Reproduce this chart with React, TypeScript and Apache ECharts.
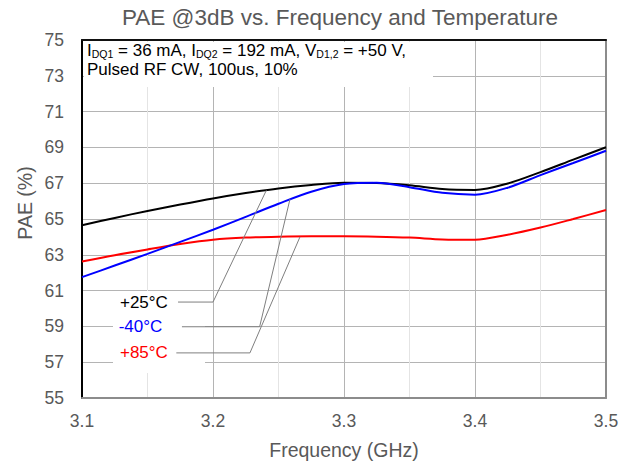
import React, { useEffect, useRef } from "react";
import * as echarts from "echarts";

const FONT = "Liberation Sans, Arial, Helvetica, sans-serif";

const freq = [3.1, 3.125, 3.15, 3.175, 3.2, 3.225, 3.25, 3.275, 3.3, 3.325, 3.35, 3.375, 3.4, 3.425, 3.45, 3.475, 3.5];
const pae25 = [64.65, 65.06, 65.45, 65.81, 66.15, 66.45, 66.71, 66.9, 67.02, 67.01, 66.88, 66.67, 66.62, 66.98, 67.62, 68.32, 69.01];
const paeM40 = [61.75, 62.4, 63.05, 63.72, 64.4, 65.12, 65.85, 66.52, 66.95, 67.03, 66.78, 66.46, 66.36, 66.75, 67.45, 68.13, 68.81];
const pae85 = [62.62, 62.98, 63.3, 63.6, 63.84, 63.96, 64.01, 64.03, 64.03, 64.01, 63.96, 63.86, 63.84, 64.12, 64.52, 65.0, 65.5];

const seriesNames = ["+25°C", "-40°C", "+85°C"];
const seriesColors = ["#000000", "#0000ff", "#ff0000"];

const xTickMin = 3.1;
const xTickMax = 3.5;
const xTickStep = 0.1;
const yTickMin = 55;
const yTickMax = 75;
const yTickStep = 2;

const noteLine1 = "I{s|DQ1} = 36 mA, I{s|DQ2} = 192 mA, V{s|D1,2} = +50 V,";
const noteLine2 = "Pulsed RF CW, 100us, 10%";

// annotation geometry in data coordinates: label anchor, leader start x, elbow, tip
const labelLayout = [
  { text: [3.129, 60.36], startX: 3.1733, elbow: [3.2, 60.36], tip: [3.2407, 66.6] },
  { text: [3.128, 58.98], startX: 3.1763, elbow: [3.2356, 58.98], tip: [3.2588, 66.12] },
  { text: [3.129, 57.52], startX: 3.172, elbow: [3.2282, 57.52], tip: [3.2664, 64.0] },
];

export default function App() {
  const ref = useRef<HTMLDivElement>(null);

  useEffect(() => {
    if (!ref.current) return;
    const chart = echarts.init(ref.current, null, { renderer: "svg" });
    const mk = (vals: number[]) => freq.map((f, i) => [f, vals[i]]);
    const order = [2, 0, 1];
    const allVals = [pae25, paeM40, pae85];

    chart.setOption({
      animation: false,
      backgroundColor: "#ffffff",
      textStyle: { fontFamily: FONT },
      title: {
        text: "PAE @3dB vs. Frequency and Temperature",
        left: 340,
        textAlign: "center",
        top: 6,
        padding: 0,
        textStyle: { fontSize: 22.5, fontWeight: "normal", color: "#595959", fontFamily: FONT },
      },
      grid: { left: 82, right: 23, top: 40, bottom: 62, containLabel: false },
      xAxis: [
        {
          type: "value",
          min: xTickMin,
          max: xTickMax,
          interval: xTickStep,
          name: "Frequency (GHz)",
          nameLocation: "middle",
          nameGap: 42,
          nameTextStyle: { fontSize: 19.5, color: "#595959", fontFamily: FONT },
          axisLine: { show: true, lineStyle: { color: "#8c8c8c", width: 2 } },
          axisTick: { show: false },
          minorTick: { show: false, splitNumber: 2 },
          minorSplitLine: { show: true, lineStyle: { color: "#e4e4e4", width: 1 } },
          splitLine: { show: true, lineStyle: { color: "#b4b4b4", width: 1 } },
          axisLabel: {
            fontSize: 17.5,
            color: "#595959",
            margin: 14,
            fontFamily: FONT,
            formatter: (v: number) => v.toFixed(1),
          },
        },
        {
          type: "value",
          position: "top",
          min: xTickMin,
          max: xTickMax,
          interval: xTickStep,
          axisLine: { show: true, lineStyle: { color: "#111111", width: 2 } },
          axisTick: { show: false },
          axisLabel: { show: false },
          splitLine: { show: false },
        },
      ],
      yAxis: [
        {
          type: "value",
          min: yTickMin,
          max: yTickMax,
          interval: yTickStep,
          axisLine: { show: true, lineStyle: { color: "#000000", width: 2 } },
          axisTick: { show: false },
          splitLine: { show: true, lineStyle: { color: "#b4b4b4", width: 1 } },
          axisLabel: { fontSize: 17.5, color: "#595959", margin: 18, fontFamily: FONT },
        },
        {
          type: "value",
          position: "right",
          min: yTickMin,
          max: yTickMax,
          interval: yTickStep,
          axisLine: { show: true, lineStyle: { color: "#8c8c8c", width: 2 } },
          axisTick: { show: false },
          axisLabel: { show: false },
          splitLine: { show: false },
        },
      ],
      series: order.map((i) => ({
        name: seriesNames[i],
        type: "line",
        data: mk(allVals[i]),
        smooth: 0.3,
        showSymbol: false,
        symbol: "none",
        lineStyle: { color: seriesColors[i], width: 2 },
        itemStyle: { color: seriesColors[i] },
        z: 5,
      })),
    });

    const px = (p: number[]) => chart.convertToPixel({ seriesIndex: 0 }, p) as number[];
    const graphics: any[] = [];
    graphics.push({
      type: "rect",
      z: 1,
      shape: { x: 84, y: 42, width: 349, height: 45 },
      style: { fill: "#ffffff" },
    });
    graphics.push({
      type: "text",
      z: 10,
      style: {
        x: 87,
        y: 42,
        text: noteLine1,
        fontSize: 17,
        fontFamily: FONT,
        lineHeight: 17,
        fill: "#000000",
        rich: {
          s: { fontSize: 10.5, lineHeight: 8, verticalAlign: "bottom", fill: "#000000", fontFamily: FONT },
        },
      },
    });
    graphics.push({
      type: "text",
      z: 10,
      style: {
        x: 87,
        y: 60.5,
        text: noteLine2,
        fontSize: 17,
        fontFamily: FONT,
        lineHeight: 17,
        fill: "#000000",
      },
    });
    graphics.push({
      type: "rect",
      z: 1,
      shape: { x: 113, y: 291, width: 92, height: 82 },
      style: { fill: "#ffffff" },
    });
    labelLayout.forEach((L, i) => {
      const t = px(L.text);
      const s = px([L.startX, L.elbow[1]]);
      const e = px(L.elbow);
      const tip = px(L.tip);
      graphics.push({
        type: "polyline",
        z: 8,
        shape: { points: [s, e, tip] },
        style: { stroke: "#7f7f7f", lineWidth: 1, fill: null },
      });
      graphics.push({
        type: "text",
        z: 10,
        style: {
          x: t[0],
          y: t[1],
          text: seriesNames[i],
          fontSize: 17,
          fontFamily: FONT,
          fill: seriesColors[i],
          verticalAlign: "middle",
          align: "left",
        },
      });
    });
    graphics.push({
      type: "text",
      z: 10,
      x: 25,
      y: 203,
      rotation: Math.PI / 2,
      style: {
        x: 0,
        y: 0,
        text: "PAE (%)",
        fontSize: 19.5,
        fontFamily: FONT,
        fill: "#595959",
        align: "center",
        verticalAlign: "middle",
      },
    });
    chart.setOption({ graphic: graphics });

    return () => chart.dispose();
  }, []);

  return (
    <div
      ref={ref}
      style={{ position: "fixed", left: 0, top: 0, width: 629, height: 465, background: "#fff" }}
    />
  );
}
